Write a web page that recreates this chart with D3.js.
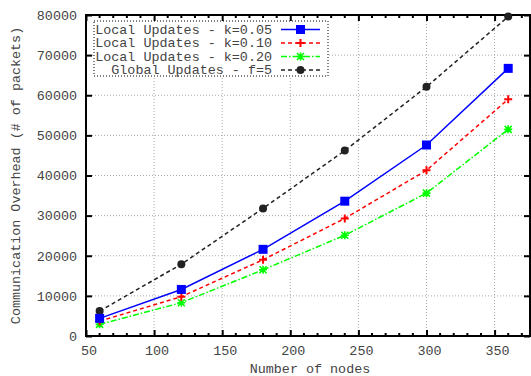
<!DOCTYPE html>
<html><head><meta charset="utf-8">
<script src="https://cdn.jsdelivr.net/npm/d3@7"></script>
<style>body{margin:0;background:#fff}svg{display:block}text{font-family:"Liberation Mono","DejaVu Sans Mono",monospace;fill:#444}</style>
</head><body><svg id="c" width="531" height="376"></svg>
<script>
// Communication overhead vs. network size
const nodes = [60, 120, 180, 240, 300, 360];
const local005 = [4400, 11600, 21600, 33600, 47600, 66700];
const local010 = [3700, 9800, 19000, 29300, 41300, 59000];
const local020 = [2900, 8300, 16500, 25100, 35600, 51500];
const global5 = [6200, 17900, 31800, 46200, 62100, 79600];
const xTicks = [50, 100, 150, 200, 250, 300, 350];
const yTicks = [0, 10000, 20000, 30000, 40000, 50000, 60000, 70000, 80000];

const series = [
  {name: "Local Updates - k=0.05", values: local005, color: "#0000ff", dash: null, mark: "square"},
  {name: "Local Updates - k=0.10", values: local010, color: "#ff0000", dash: "4,3", mark: "plus"},
  {name: "Local Updates - k=0.20", values: local020, color: "#00ff00", dash: "6,2,1.5,2", mark: "star"},
  {name: "Global Updates - f=5", values: global5, color: "#222222", dash: "4,3", mark: "circle"}
];

const FS = 13.4;
const L = 86, R = 530, T = 15, B = 336;
const svg = d3.select("#c");
const x = d3.scaleLinear().domain([50, 376]).range([L, R]);
const y = d3.scaleLinear().domain([0, 80000]).range([B, T]);

// grid
const grid = svg.append("g").attr("stroke", "#aaa").attr("stroke-width", 1).attr("stroke-dasharray", "1,2");
xTicks.slice(1).forEach(v => grid.append("line").attr("x1", x(v)).attr("x2", x(v)).attr("y1", T).attr("y2", B));
yTicks.slice(1, -1).forEach(v => grid.append("line").attr("x1", L).attr("x2", R).attr("y1", y(v)).attr("y2", y(v)));

// axes with inward ticks on all four sides
const axBottom = d3.axisBottom(x).tickValues(xTicks).tickFormat(d3.format("d")).tickSize(-6).tickPadding(9);
const axTop = d3.axisTop(x).tickValues(xTicks).tickSize(-6).tickFormat("");
const axLeft = d3.axisLeft(y).tickValues(yTicks).tickFormat(d3.format("d")).tickSize(-6).tickPadding(9);
const axRight = d3.axisRight(y).tickValues(yTicks).tickSize(-6).tickFormat("");
function style(g) {
  g.select(".domain").remove();
  g.selectAll("line").attr("stroke", "#000").attr("stroke-width", 2);
  g.selectAll("text").attr("font-size", FS).attr("fill", "#444").style("font-family", '"Liberation Mono",monospace');
}
svg.append("g").attr("transform", `translate(0,${B})`).call(axBottom).call(style)
  .selectAll("text").attr("dx", 2.5);
svg.append("g").attr("transform", `translate(0,${T})`).call(axTop).call(style);
svg.append("g").attr("transform", `translate(${L},0)`).call(axLeft).call(style);
svg.append("g").attr("transform", `translate(${R},0)`).call(axRight).call(style);

// minor x ticks
const minor = d3.range(60, 376, 10).filter(v => v % 50 !== 0);
const mg = svg.append("g").attr("stroke", "#000").attr("stroke-width", 2);
minor.forEach(v => {
  mg.append("line").attr("x1", x(v)).attr("x2", x(v)).attr("y1", B).attr("y2", B - 3);
  mg.append("line").attr("x1", x(v)).attr("x2", x(v)).attr("y1", T).attr("y2", T + 3);
});

// frame
svg.append("rect").attr("x", L).attr("y", T).attr("width", R - L).attr("height", B - T)
  .attr("fill", "none").attr("stroke", "#000").attr("stroke-width", 2);

function marker(g, kind, cx, cy, color) {
  if (kind === "square") g.append("rect").attr("x", cx - 4.5).attr("y", cy - 4.5).attr("width", 9).attr("height", 9).attr("fill", color);
  else if (kind === "circle") g.append("circle").attr("cx", cx).attr("cy", cy).attr("r", 4).attr("fill", color);
  else if (kind === "plus") g.append("path").attr("d", `M${cx-4},${cy}H${cx+4}M${cx},${cy-4}V${cy+4}`).attr("stroke", color).attr("stroke-width", 2);
  else if (kind === "star") g.append("path").attr("d", `M${cx-4},${cy}H${cx+4}M${cx},${cy-4}V${cy+4}M${cx-3.5},${cy-3.5}L${cx+3.5},${cy+3.5}M${cx-3.5},${cy+3.5}L${cx+3.5},${cy-3.5}`).attr("stroke", color).attr("stroke-width", 1.6);
}

const line = d3.line().x((d, i) => x(nodes[i])).y(d => y(d));
const plot = svg.append("g");
series.slice().reverse().forEach(s => {
  plot.append("path").attr("d", line(s.values)).attr("fill", "none").attr("stroke", s.color)
    .attr("stroke-width", 1.5).attr("stroke-dasharray", s.dash);
  s.values.forEach((v, i) => marker(plot, s.mark, x(nodes[i]), y(v), s.color));
});

// legend
const lg = svg.append("g");
lg.append("rect").attr("x", 94).attr("y", 21).attr("width", 234).attr("height", 55)
  .attr("fill", "#fff").attr("stroke", "#000").attr("stroke-width", 1).attr("stroke-dasharray", "1,2");
series.forEach((s, i) => {
  const cy = 29.5 + i * 13.5;
  lg.append("text").attr("x", 272).attr("y", cy + 4).attr("text-anchor", "end").attr("font-size", FS).text(s.name);
  lg.append("line").attr("x1", 281).attr("x2", 320).attr("y1", cy).attr("y2", cy)
    .attr("stroke", s.color).attr("stroke-width", 1.5).attr("stroke-dasharray", s.dash);
  marker(lg, s.mark, 300.5, cy, s.color);
});

// axis titles
svg.append("text").attr("x", 310).attr("y", 373).attr("text-anchor", "middle").attr("font-size", FS).text("Number of nodes");
svg.append("text").attr("transform", `translate(20,${(T + B) / 2}) rotate(-90)`).attr("text-anchor", "middle")
  .attr("font-size", FS).text("Communication Overhead (# of packets)");
</script></body></html>
